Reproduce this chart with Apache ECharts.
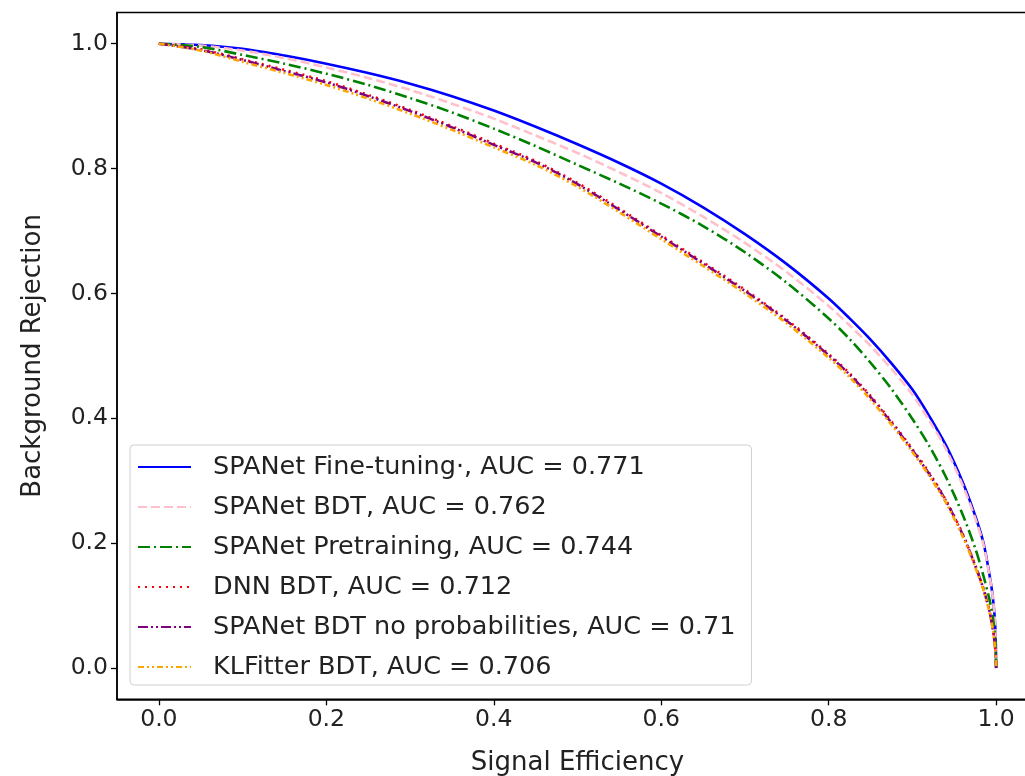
<!DOCTYPE html>
<html><head><meta charset="utf-8">
<script src="https://cdn.jsdelivr.net/npm/echarts@6/dist/echarts.min.js"></script>
<style>html,body{margin:0;padding:0;background:#fff}#c{width:1025px;height:776px}</style>
</head><body><div id="c"></div>
<script>
// Signal efficiency sample points (x axis)
const signalEff = [0, 0.05, 0.1, 0.15, 0.2, 0.25, 0.3, 0.35, 0.4, 0.45, 0.5, 0.55, 0.6, 0.65, 0.7, 0.75, 0.8, 0.825, 0.85, 0.875, 0.9, 0.92, 0.94, 0.96, 0.975, 0.985, 0.992, 0.996, 0.999, 1.0];
// Background rejection for each model
const fineTuning  = [1.0, 0.998, 0.992, 0.981, 0.968, 0.953, 0.936, 0.916, 0.893, 0.867, 0.839, 0.809, 0.776, 0.738, 0.695, 0.647, 0.592, 0.560, 0.526, 0.488, 0.446, 0.404, 0.357, 0.298, 0.244, 0.200, 0.150, 0.114, 0.065, 0.0];
const spanetBDT   = [1.0, 0.997, 0.989, 0.977, 0.962, 0.945, 0.926, 0.904, 0.880, 0.853, 0.825, 0.794, 0.761, 0.723, 0.681, 0.634, 0.580, 0.549, 0.516, 0.479, 0.438, 0.397, 0.351, 0.293, 0.240, 0.197, 0.148, 0.113, 0.065, 0.0];
const pretraining = [1.0, 0.995, 0.982, 0.968, 0.952, 0.934, 0.913, 0.890, 0.864, 0.836, 0.806, 0.776, 0.744, 0.708, 0.666, 0.617, 0.560, 0.527, 0.489, 0.447, 0.399, 0.356, 0.306, 0.246, 0.192, 0.147, 0.110, 0.082, 0.045, 0.0];
const dnnBDT      = [1.0, 0.991, 0.975, 0.958, 0.940, 0.918, 0.894, 0.868, 0.840, 0.812, 0.777, 0.736, 0.693, 0.650, 0.606, 0.558, 0.503, 0.472, 0.436, 0.395, 0.351, 0.313, 0.269, 0.215, 0.165, 0.127, 0.092, 0.064, 0.030, 0.0];
const noProbBDT   = [1.0, 0.990, 0.974, 0.956, 0.938, 0.916, 0.892, 0.866, 0.838, 0.810, 0.775, 0.734, 0.691, 0.648, 0.604, 0.556, 0.501, 0.470, 0.434, 0.393, 0.349, 0.311, 0.268, 0.214, 0.164, 0.126, 0.091, 0.063, 0.030, 0.0];
const klfitterBDT = [1.0, 0.989, 0.971, 0.953, 0.934, 0.912, 0.888, 0.862, 0.834, 0.806, 0.771, 0.730, 0.687, 0.644, 0.600, 0.552, 0.497, 0.466, 0.430, 0.390, 0.346, 0.308, 0.265, 0.211, 0.162, 0.124, 0.090, 0.062, 0.029, 0.0];

const seriesNames = [
  'SPANet Fine-tuning·, AUC = 0.771',
  'SPANet BDT, AUC = 0.762',
  'SPANet Pretraining, AUC = 0.744',
  'DNN BDT, AUC = 0.712',
  'SPANet BDT no probabilities, AUC = 0.71',
  'KLFitter BDT, AUC = 0.706'
];
const xTicks = [0, 0.2, 0.4, 0.6, 0.8, 1.0];
const yTicks = [0, 0.2, 0.4, 0.6, 0.8, 1.0];

const seriesValues = [fineTuning, spanetBDT, pretraining, dnnBDT, noProbBDT, klfitterBDT];
const styles = [
  {color: '#0000ff', type: 'solid'},
  {color: '#ffc0cb', type: [9, 4]},
  {color: '#008000', type: [12, 4, 2, 4]},
  {color: '#ff0000', type: [2, 5]},
  {color: '#800080', type: [10, 3, 2, 3, 2, 3]},
  {color: '#ffa500', type: [6, 3, 2, 3, 2, 3]}
];
const FONT = 'DejaVu Sans';
const TXT = '#222';

const series = seriesValues.map((vals, i) => ({
  type: 'line',
  name: seriesNames[i],
  data: signalEff.map((x, j) => [x, vals[j]]),
  showSymbol: false,
  symbol: 'none',
  smooth: 0.3,
  color: styles[i].color,
  lineStyle: {color: styles[i].color, width: 2.6, type: styles[i].type},
  animation: false
}));

const chart = echarts.init(document.getElementById('c'));
chart.setOption({
  animation: false,
  backgroundColor: '#fff',
  grid: {left: 117, top: 12.5, right: -13, bottom: 76.7, outerBoundsMode: 'none', containLabel: false,
         show: true, borderColor: '#000', borderWidth: 1.5, backgroundColor: 'transparent'},
  xAxis: {
    type: 'value', min: -0.05, max: 1.05,
    axisLine: {show: true, onZero: false, lineStyle: {color: '#000', width: 1.5}},
    splitLine: {show: false},
    axisTick: {show: true, inside: false, customValues: xTicks, length: 6, lineStyle: {color: '#000', width: 1.3}},
    axisLabel: {customValues: xTicks, formatter: v => v.toFixed(1), fontSize: 23.5, color: TXT, fontFamily: FONT, margin: 9},
    name: 'Signal Efficiency', nameLocation: 'middle', nameGap: 51,
    nameTextStyle: {fontSize: 26, color: TXT, fontFamily: FONT}
  },
  yAxis: {
    type: 'value', min: -0.05, max: 1.05,
    axisLine: {show: true, onZero: false, lineStyle: {color: '#000', width: 1.5}},
    splitLine: {show: false},
    axisTick: {show: true, inside: false, customValues: yTicks, length: 6, lineStyle: {color: '#000', width: 1.3}},
    axisLabel: {customValues: yTicks, formatter: v => v.toFixed(1), fontSize: 23.5, color: TXT, fontFamily: FONT, margin: 9},
    name: 'Background Rejection', nameLocation: 'middle', nameGap: 71,
    nameTextStyle: {fontSize: 26, color: TXT, fontFamily: FONT}
  },
  legend: {
    orient: 'vertical', left: 130, top: 445,
    itemWidth: 53, itemHeight: 14, itemGap: 12,
    padding: [8, 16, 4, 7],
    backgroundColor: 'rgba(255,255,255,0.8)',
    borderColor: '#d0d0d0', borderWidth: 1, borderRadius: 4,
    itemStyle: {opacity: 0, color: 'transparent', borderWidth: 0},
    textStyle: {fontSize: 25.5, fontFamily: FONT, color: TXT, lineHeight: 28, padding: [0, 0, 0, 17]},
    data: seriesNames
  },
  series: series
});
</script></body></html>
